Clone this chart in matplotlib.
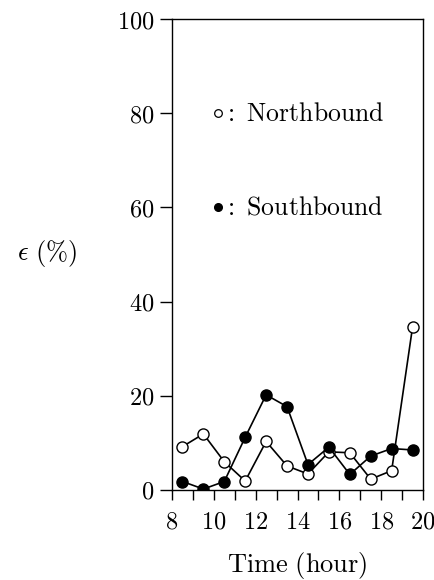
import matplotlib
matplotlib.use("Agg")
import matplotlib.pyplot as plt
from matplotlib.ticker import MultipleLocator

plt.rcParams['mathtext.fontset'] = 'cm'
plt.rcParams['font.family'] = ['serif']
plt.rcParams['font.serif'] = ['DejaVu Serif']

hours = [8.5, 9.5, 10.5, 11.5, 12.5, 13.5, 14.5, 15.5, 16.5, 17.5, 18.5, 19.5]
north = [9.2, 11.9, 6.0, 1.9, 10.3, 5.1, 3.4, 8.1, 7.9, 2.3, 4.1, 34.6]
south = [1.8, 0.2, 1.8, 11.2, 20.2, 17.7, 5.4, 9.1, 3.3, 7.2, 8.8, 8.5]
xticks = [8, 10, 12, 14, 16, 18, 20]
yticks = [0, 20, 40, 60, 80, 100]

fig = plt.figure(figsize=(4.34, 5.80), dpi=100)
ax = fig.add_axes([0.3963, 0.1552, 0.5784, 0.812])

ax.plot(hours, north, '-o', color='black', mfc='white', mec='black',
        ms=8, lw=1.2, mew=1.0, zorder=3)
ax.plot(hours, south, '-o', color='black', mfc='black', mec='black',
        ms=8, lw=1.2, zorder=3)

ax.set_xlim(8, 20)
ax.set_ylim(0, 100)
ax.set_xticks(xticks)
ax.set_xticklabels([f'${t}$' for t in xticks])
ax.set_yticks(yticks)
ax.set_yticklabels([f'${t}$' for t in yticks])
ax.xaxis.set_minor_locator(MultipleLocator(1))
ax.tick_params(axis='both', which='major', direction='out', length=9, width=1.0,
               labelsize=17.5)
ax.tick_params(axis='x', which='major', length=7, pad=8)
ax.tick_params(axis='x', which='minor', direction='out', length=7, width=1.0)
for s in ax.spines.values():
    s.set_linewidth(1.0)

ax.set_xlabel(r'$\mathrm{Time\ (hour)}$', fontsize=19, labelpad=12)
fig.text(0.108, 0.563, r'$\epsilon\ (\%)$', fontsize=19, ha='center', va='center')

ax.plot([10.2], [80], 'o', ms=5.5, mfc='white', mec='black', mew=0.9)
ax.text(10.42, 80, r'$\mathrm{:\ Northbound}$', fontsize=18.5, va='center', ha='left')
ax.plot([10.2], [60], 'o', ms=5.5, mfc='black', mec='black')
ax.text(10.42, 60, r'$\mathrm{:\ Southbound}$', fontsize=18.5, va='center', ha='left')

fig.savefig('out.png', dpi=100)
